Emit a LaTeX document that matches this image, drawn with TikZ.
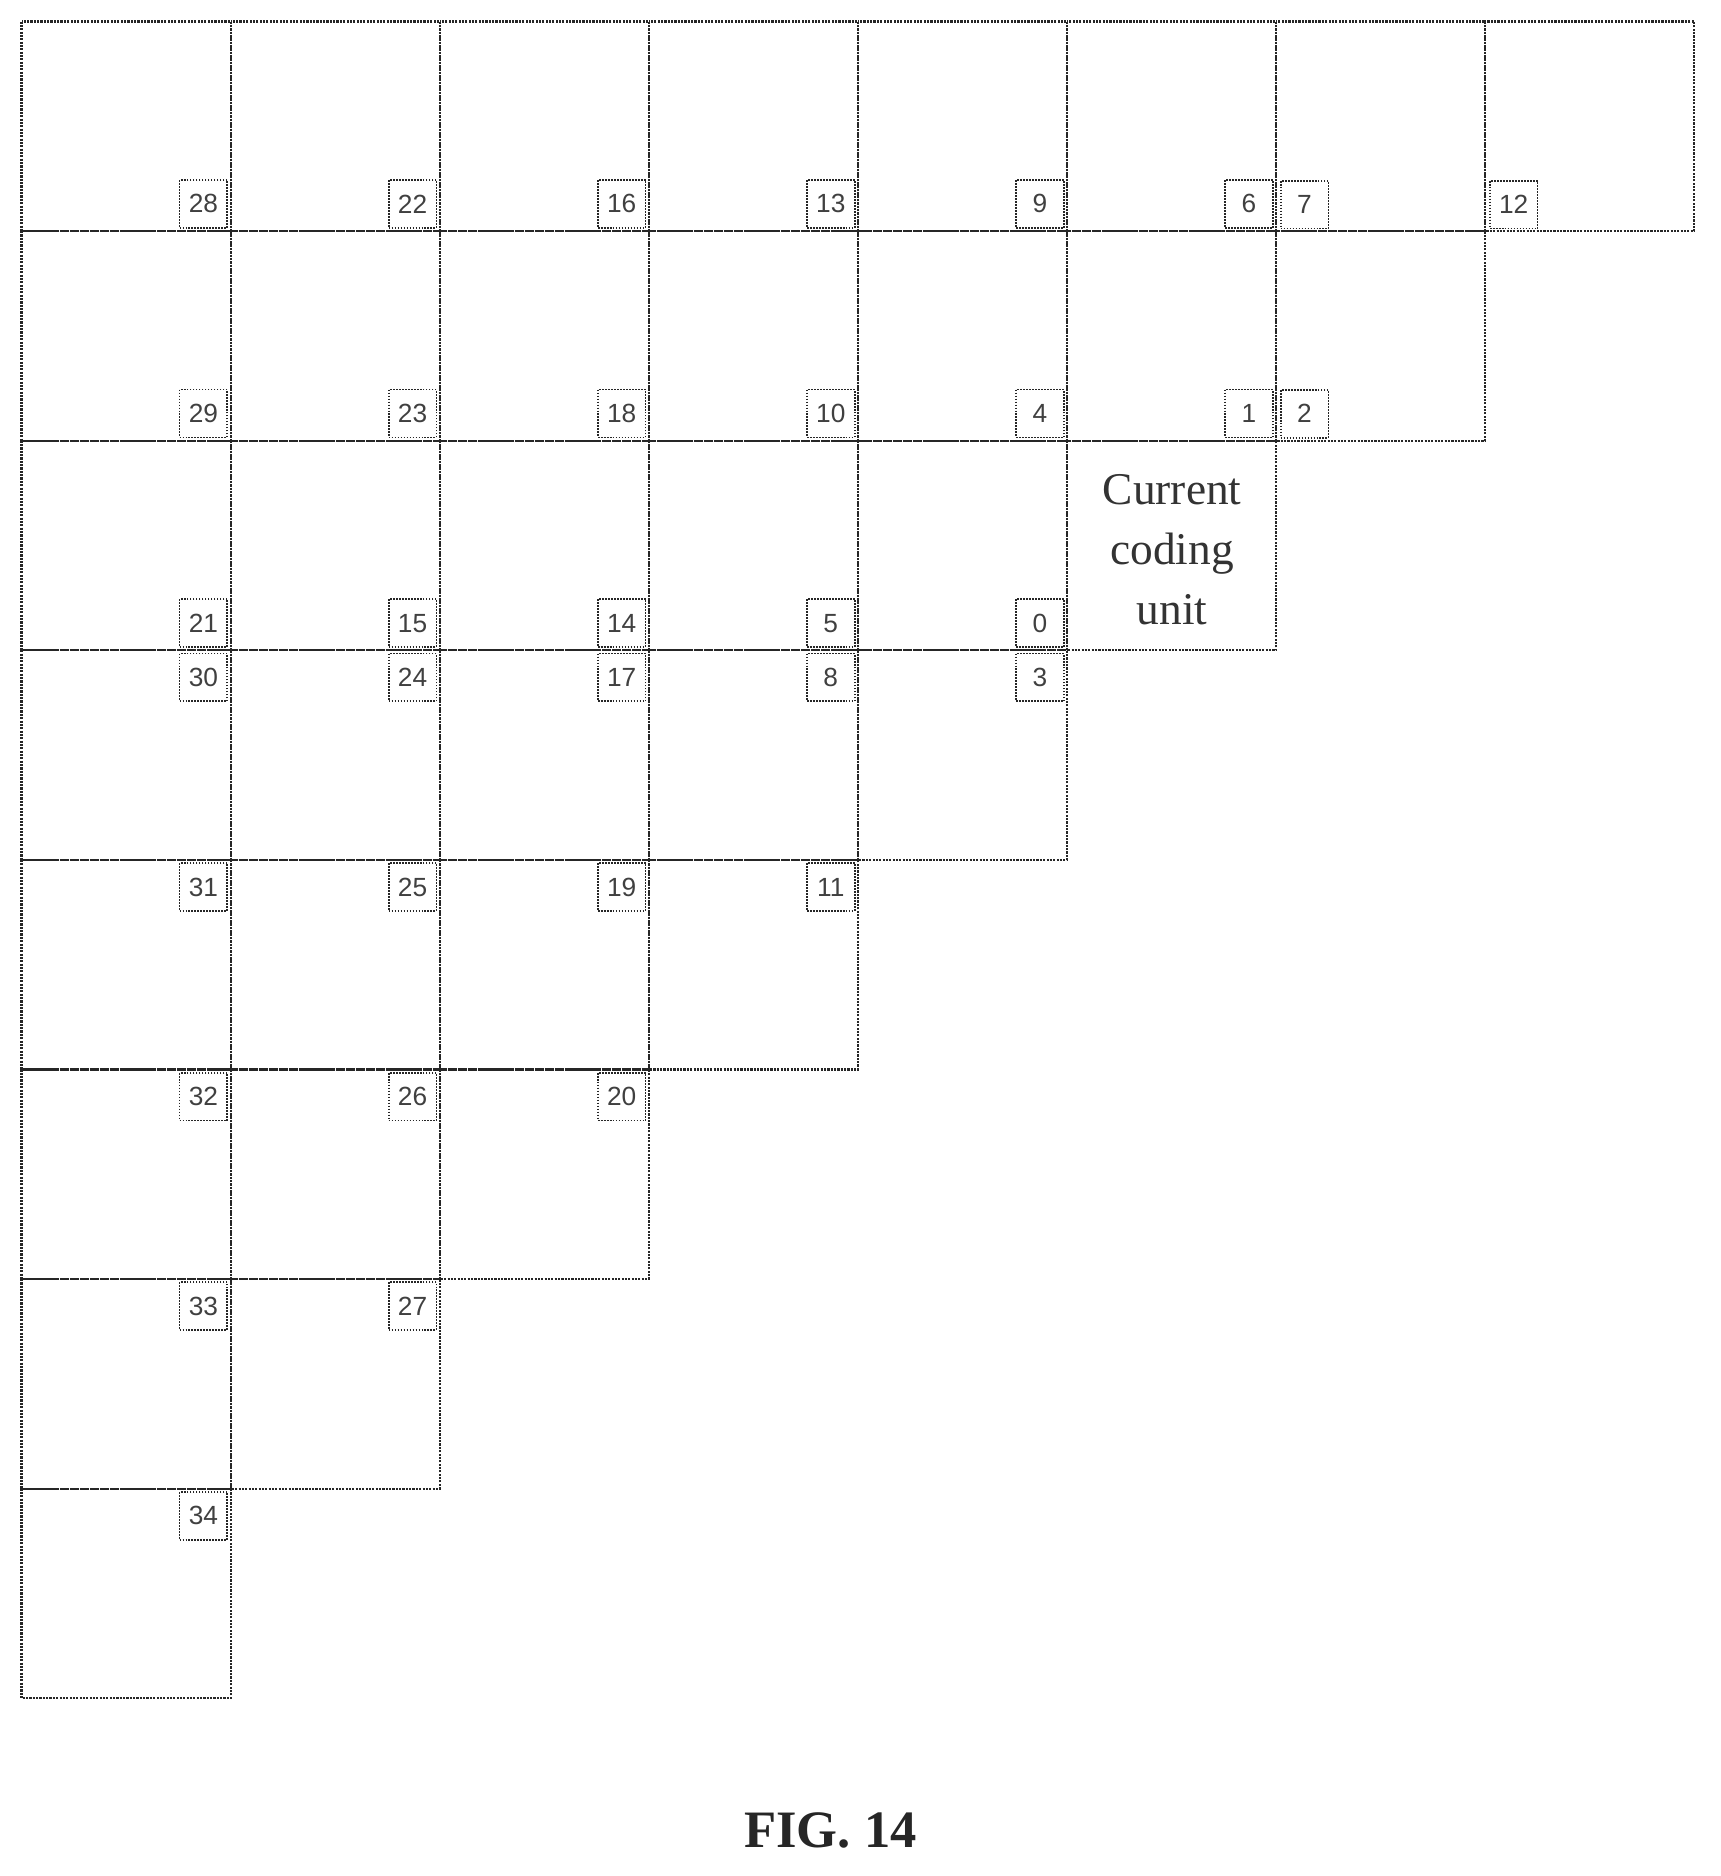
\documentclass[tikz,border=0pt]{standalone}
\usepackage{fontspec}
\setmainfont{Liberation Serif}
\newfontfamily\lab{Liberation Sans}
\begin{document}
\begin{tikzpicture}[x=1pt,y=-1pt,
  cell/.style={draw=black!85,densely dotted,line width=1.8pt},
  lbl/.style={draw=black!85,densely dotted,line width=1.5pt,minimum width=40pt,minimum height=40pt,inner sep=0pt,font=\lab\fontsize{22}{22}\selectfont,text=black!75}]
\useasboundingbox (0,0) rectangle (1440,1570);
\foreach \r/\n in {0/8,1/7,2/6,3/5,4/4,5/3,6/2,7/1}{
  \foreach \c in {1,...,\n}{
    \draw[cell] ({18+175*(\c-1)},{18+175.4*\r}) rectangle ({18+175*\c},{18+175.4*(\r+1)});
  }
}
\foreach \r/\lst in {0/{28,22,16,13,9,6},1/{29,23,18,10,4,1},2/{21,15,14,5,0}}{
  \foreach \t [count=\c] in \lst{
    \node[lbl,anchor=south east] (b\t) at ({18+175*\c-2},{18+175.4*(\r+1)-2}) {\t};
  }
}
\node[lbl,anchor=south west] (b7) at (1071,192) {7};
\node[lbl,anchor=south west] (b12) at (1246,192) {12};
\node[lbl,anchor=south west] (b2) at (1071,367) {2};
\foreach \r/\lst in {3/{30,24,17,8,3},4/{31,25,19,11},5/{32,26,20},6/{33,27},7/{34}}{
  \foreach \t [count=\c] in \lst{
    \node[lbl,anchor=north east] (b\t) at ({18+175*\c-2},{18+175.4*\r+2}) {\t};
  }
}
\node[align=center,font=\fontsize{38}{50}\selectfont,text=black!80] (cu) at (981,460) {Current\\coding\\unit};
\node[font=\bfseries\fontsize{44}{44}\selectfont,text=black!85] (fig) at (695,1532) {FIG. 14};
\end{tikzpicture}
\end{document}
